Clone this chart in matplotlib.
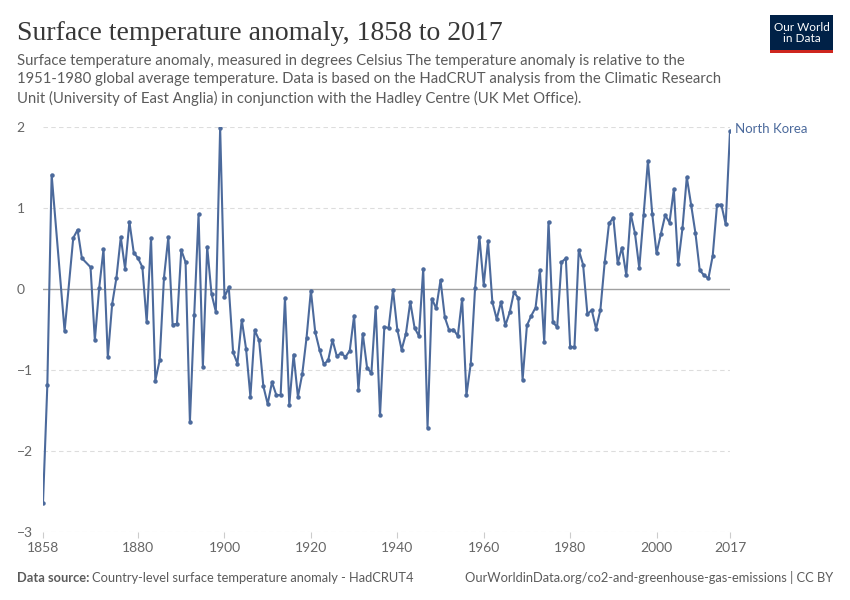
import matplotlib
matplotlib.use("Agg")
import matplotlib.pyplot as plt
from matplotlib.patches import Rectangle

plt.rcParams['font.family'] = ['Lato', 'DejaVu Sans']

# Datos (anomalia de temperatura, Corea del Norte)
# faltan 1861, 1862, 1864 y 1868 (sin punto en el original)
years = [1858, 1859, 1860, 1863, 1865, 1866, 1867, 1869] + list(range(1870, 2018))
anomaly = [
    -2.64, -1.19, 1.41, -0.52, 0.63, 0.73, 0.38, 0.27,                   # 1858-1869
    -0.63, 0.01, 0.49, -0.84, -0.19, 0.14, 0.64, 0.25,                   # 1870-1877
    0.83, 0.45, 0.38, 0.27, -0.41, 0.63, -1.13, -0.88, 0.14, 0.64,       # 1878-1887
    -0.44, -0.43, 0.48, 0.33, -1.64, -0.32, 0.92, -0.96, 0.52, -0.06,    # 1888-1897
    -0.28, 1.99, -0.10, 0.02, -0.78, -0.92, -0.38, -0.74, -1.33, -0.51,  # 1898-1907
    -0.63, -1.20, -1.42, -1.15, -1.31, -1.31, -0.11, -1.43, -0.81, -1.33,  # 1908-1917
    -1.05, -0.60, -0.02, -0.53, -0.75, -0.93, -0.88, -0.63, -0.83, -0.79,  # 1918-1927
    -0.84, -0.76, -0.33, -1.25, -0.55, -0.97, -1.04, -0.22, -1.56, -0.47,  # 1928-1937
    -0.48, -0.01, -0.50, -0.75, -0.55, -0.16, -0.48, -0.58, 0.25, -1.71,   # 1938-1947
    -0.12, -0.24, 0.11, -0.35, -0.51, -0.50, -0.58, -0.12, -1.31, -0.92,   # 1948-1957
    0.01, 0.64, 0.05, 0.59, -0.16, -0.37, -0.16, -0.45, -0.29, -0.04,      # 1958-1967
    -0.11, -1.12, -0.45, -0.33, -0.23, 0.23, -0.65, 0.83, -0.41, -0.47,    # 1968-1977
    0.33, 0.38, -0.71, -0.72, 0.48, 0.30, -0.31, -0.26, -0.49, -0.26,      # 1978-1987
    0.33, 0.81, 0.88, 0.32, 0.51, 0.17, 0.93, 0.69, 0.26, 0.91,            # 1988-1997
    1.58, 0.93, 0.44, 0.68, 0.91, 0.82, 1.23, 0.31, 0.75, 1.38,            # 1998-2007
    1.04, 0.69, 0.23, 0.17, 0.13, 0.41, 1.04, 1.04, 0.80, 1.95,            # 2008-2017
]
xticks = [1858, 1880, 1900, 1920, 1940, 1960, 1980, 2000, 2017]
yticks = [-3, -2, -1, 0, 1, 2]

line_color = '#4c6a9c'
grey = '#666666'

fig = plt.figure(figsize=(8.5, 6), dpi=100)
ax = fig.add_axes([43 / 850, 1 - 532 / 600, (730 - 43) / 850, (532 - 127) / 600])

ax.plot(years, anomaly, color=line_color, lw=1.5, marker='o', ms=2.2, zorder=3)

ax.set_xlim(1858, 2017)
ax.set_ylim(-3, 2)
ax.set_xticks(xticks)
ax.set_yticks(yticks)

# lineas de cuadricula punteadas, la de cero solida
for v in yticks:
    if v == 0:
        ax.axhline(0, color='#a0a0a0', lw=1, zorder=2)
    else:
        ax.axhline(v, color='#dddddd', lw=0.8, ls=(0, (4, 3)), zorder=1)

for s in ax.spines.values():
    s.set_visible(False)
ax.tick_params(axis='x', length=4, color='#cccccc', labelsize=10, labelcolor=grey, pad=3)
ax.tick_params(axis='y', length=0, labelsize=10, labelcolor=grey, pad=19)
for lab in ax.get_yticklabels():
    lab.set_horizontalalignment('left')

ax.text(2017 + 1.2, anomaly[-1] + 0.02, 'North Korea', color=line_color, fontsize=9.5,
        va='center', ha='left', clip_on=False)

# titulo y subtitulo
fig.text(17 / 850, 1 - 33 / 600, 'Surface temperature anomaly, 1858 to 2017',
         family=['Liberation Serif', 'DejaVu Serif'], fontsize=20, color='#373737', va='center')
fig.text(17 / 850, 1 - 54 / 600,
         'Surface temperature anomaly, measured in degrees Celsius The temperature anomaly is relative to the\n'
         '1951-1980 global average temperature. Data is based on the HadCRUT analysis from the Climatic Research\n'
         'Unit (University of East Anglia) in conjunction with the Hadley Centre (UK Met Office).',
         fontsize=10.7, color='#5b5b5b', va='top', linespacing=1.4)

# logo
fig.patches.append(Rectangle((770 / 850, 1 - 50 / 600), 63 / 850, 35 / 600, transform=fig.transFigure,
                             facecolor='#002147', edgecolor='none'))
fig.patches.append(Rectangle((770 / 850, 1 - 53 / 600), 63 / 850, 3 / 600, transform=fig.transFigure,
                             facecolor='#ce261e', edgecolor='none'))
fig.text(801.5 / 850, 1 - 33 / 600, 'Our World\nin Data', color='white', fontsize=8.5,
         ha='center', va='center', linespacing=1.1)

# pie
fig.text(17 / 850, 1 - 578 / 600, 'Data source:', fontsize=9.3, color='#5b5b5b',
         weight='bold', va='center')
fig.text(92 / 850, 1 - 578 / 600, 'Country-level surface temperature anomaly - HadCRUT4',
         fontsize=9.3, color='#5b5b5b', va='center')
fig.text(833 / 850, 1 - 578 / 600, 'OurWorldinData.org/co2-and-greenhouse-gas-emissions | CC BY',
         fontsize=9.3, color='#5b5b5b', va='center', ha='right')

fig.savefig('out.png', dpi=100)
